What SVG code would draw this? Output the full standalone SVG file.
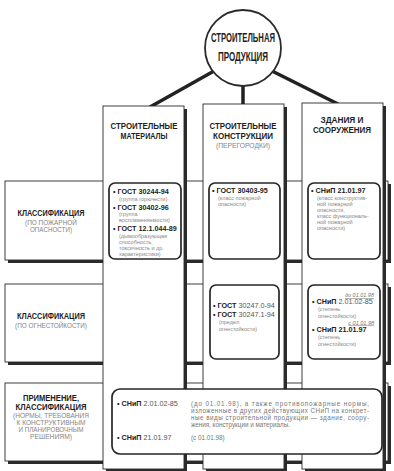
<svg xmlns="http://www.w3.org/2000/svg" width="394" height="471" viewBox="0 0 394 471">
<style>
.pn{fill:#fff;stroke:#2a2a2a;stroke-width:0.9}
.sh{fill:#2b2b2b}
.cn{stroke:#222;stroke-width:3.5;fill:none}
.rb{fill:#fff;stroke:#262626;stroke-width:1.7}
.h{font-family:'Liberation Sans',Arial,sans-serif;font-weight:bold;fill:#1e1e1e;text-anchor:middle;font-size:8.5px}
.g{font-family:'Liberation Sans',Arial,sans-serif;fill:#858585;text-anchor:middle;font-size:7px}
.b{font-family:'Liberation Sans',Arial,sans-serif;font-weight:bold;fill:#222;font-size:7.2px}
.n{font-weight:normal;fill:#555}
.t{font-family:'Liberation Sans',Arial,sans-serif;fill:#888;font-size:5.5px}
.d{font-family:'Liberation Sans',Arial,sans-serif;fill:#777;font-size:5.5px;font-style:italic;text-decoration:underline;text-anchor:end}
.p{font-family:'Liberation Sans',Arial,sans-serif;fill:#777;font-size:6.3px}
</style>
<rect width="394" height="471" fill="#fff"/>

<g id="row-fire">
<rect class="sh" x="8" y="184" width="383" height="79"/>
<rect class="pn" x="5" y="181" width="383" height="79"/>
<text class="h" x="51" y="216" textLength="67" lengthAdjust="spacingAndGlyphs">КЛАССИФИКАЦИЯ</text>
<text class="g" x="51" y="224.5" textLength="52" lengthAdjust="spacingAndGlyphs">(ПО ПОЖАРНОЙ</text>
<text class="g" x="51" y="232" textLength="42" lengthAdjust="spacingAndGlyphs">ОПАСНОСТИ)</text>
</g>
<g id="row-resist">
<rect class="sh" x="8" y="287" width="383" height="78"/>
<rect class="pn" x="5" y="284" width="383" height="78"/>
<text class="h" x="51" y="319" textLength="68" lengthAdjust="spacingAndGlyphs">КЛАССИФИКАЦИЯ</text>
<text class="g" x="51" y="327.5" textLength="72" lengthAdjust="spacingAndGlyphs">(ПО ОГНЕСТОЙКОСТИ)</text>
</g>
<g id="row-apply">
<rect class="sh" x="8" y="386" width="383" height="78"/>
<rect class="pn" x="5" y="383" width="383" height="78"/>
<text class="h" x="51" y="401" textLength="56" lengthAdjust="spacingAndGlyphs">ПРИМЕНЕНИЕ,</text>
<text class="h" x="51" y="410" textLength="71" lengthAdjust="spacingAndGlyphs">КЛАССИФИКАЦИЯ</text>
<text class="g" x="51" y="418" textLength="76" lengthAdjust="spacingAndGlyphs">(НОРМЫ, ТРЕБОВАНИЯ</text>
<text class="g" x="51" y="425" textLength="69" lengthAdjust="spacingAndGlyphs">К КОНСТРУКТИВНЫМ</text>
<text class="g" x="51" y="432" textLength="65" lengthAdjust="spacingAndGlyphs">И ПЛАНИРОВОЧНЫМ</text>
<text class="g" x="51" y="439" textLength="42" lengthAdjust="spacingAndGlyphs">РЕШЕНИЯМ)</text>
</g>

<g id="connectors">
<path class="cn" d="M214,71 L150,107"/>
<path class="cn" d="M243,85 L243,105"/>
<path class="cn" d="M272,71 L338,104"/>
</g>

<g id="col-materials">
<rect class="sh" x="106" y="109" width="81" height="362"/>
<rect class="pn" x="103" y="106" width="81" height="363"/>
<text class="h" x="144" y="129" textLength="67" lengthAdjust="spacingAndGlyphs">СТРОИТЕЛЬНЫЕ</text>
<text class="h" x="144" y="139" textLength="47" lengthAdjust="spacingAndGlyphs">МАТЕРИАЛЫ</text>
</g>
<g id="col-structures">
<rect class="sh" x="206" y="107" width="81" height="364"/>
<rect class="pn" x="203" y="104" width="81" height="365"/>
<text class="h" x="243" y="129" textLength="67" lengthAdjust="spacingAndGlyphs">СТРОИТЕЛЬНЫЕ</text>
<text class="h" x="243" y="139" textLength="60" lengthAdjust="spacingAndGlyphs">КОНСТРУКЦИИ</text>
<text class="g" x="243" y="148" textLength="54" lengthAdjust="spacingAndGlyphs">(ПЕРЕГОРОДКИ)</text>
</g>
<g id="col-buildings">
<rect class="sh" x="305" y="106" width="81" height="365"/>
<rect class="pn" x="302" y="103" width="81" height="366"/>
<text class="h" x="342" y="123" textLength="43" lengthAdjust="spacingAndGlyphs">ЗДАНИЯ И</text>
<text class="h" x="342" y="133" textLength="58" lengthAdjust="spacingAndGlyphs">СООРУЖЕНИЯ</text>
</g>

<g id="product">
<circle cx="243" cy="48" r="38" fill="#fff" stroke="#2a2a2a" stroke-width="1.8"/>
<text class="h" x="243" y="42" style="font-size:13.5px" textLength="64" lengthAdjust="spacingAndGlyphs">СТРОИТЕЛЬНАЯ</text>
<text class="h" x="243" y="61" style="font-size:13.5px" textLength="50" lengthAdjust="spacingAndGlyphs">ПРОДУКЦИЯ</text>
</g>

<g id="box-mat-fire">
<rect class="rb" x="109" y="183" width="72" height="76" rx="6"/>
<text class="b" x="113" y="194">• ГОСТ 30244-94</text>
<text class="t" x="119" y="200.5">(группа горючести)</text>
<text class="b" x="113" y="210">• ГОСТ 30402-96</text>
<text class="t" x="119" y="216">(группа</text>
<text class="t" x="119" y="222">воспламеняемости)</text>
<text class="b" x="113" y="231">• ГОСТ 12.1.044-89</text>
<text class="t" x="119" y="237.5">(дымообразующая</text>
<text class="t" x="119" y="243.5">способность,</text>
<text class="t" x="119" y="249.5">токсичность и др.</text>
<text class="t" x="119" y="255.5">характеристики)</text>
</g>
<g id="box-str-fire">
<rect class="rb" x="209" y="183" width="71" height="76" rx="6"/>
<text class="b" x="212" y="193">• ГОСТ 30403-95</text>
<text class="t" x="218" y="199.5">(класс пожарной</text>
<text class="t" x="218" y="205.5">опасности)</text>
</g>
<g id="box-bld-fire">
<rect class="rb" x="308" y="183" width="72" height="76" rx="6"/>
<text class="b" x="311" y="193">• СНиП 21.01.97</text>
<text class="t" x="317" y="199.5">(класс конструктив-</text>
<text class="t" x="317" y="205.5">ной пожарной</text>
<text class="t" x="317" y="211.5">опасности,</text>
<text class="t" x="317" y="217.5">класс функциональ-</text>
<text class="t" x="317" y="223.5">ной пожарной</text>
<text class="t" x="317" y="229.5">опасности)</text>
</g>
<g id="box-str-resist">
<rect class="rb" x="210" y="285" width="69" height="74" rx="6"/>
<text class="b" x="213" y="308">• ГОСТ <tspan class="n">30247.0-94</tspan></text>
<text class="b" x="213" y="317">• ГОСТ <tspan class="n">30247.1-94</tspan></text>
<text class="t" x="219" y="324">(предел</text>
<text class="t" x="219" y="330.5">огнестойкости)</text>
</g>
<g id="box-bld-resist">
<rect class="rb" x="308" y="285" width="72" height="74" rx="6"/>
<text class="d" x="374" y="297">до 01.01.98</text>
<text class="b" x="312" y="304">• СНиП <tspan class="n">2.01.02-85</tspan></text>
<text class="t" x="318" y="311">(степень</text>
<text class="t" x="318" y="317.5">огнестойкости)</text>
<text class="d" x="374" y="324.5">с 01.01.98</text>
<text class="b" x="312" y="332">• СНиП 21.01.97</text>
<text class="t" x="318" y="339">(степень</text>
<text class="t" x="318" y="345.5">огнестойкости)</text>
</g>
<g id="box-apply">
<rect class="rb" x="112" y="389" width="270" height="65" rx="8"/>
<text class="b" x="117" y="406">• СНиП <tspan class="n">2.01.02-85</tspan></text>
<text class="p" x="191" y="406" textLength="178" lengthAdjust="spacing">(до 01.01.98), а также противопожарные нормы,</text>
<text class="p" x="191" y="413" textLength="178" lengthAdjust="spacing">изложенные в других действующих СНиП на конкрет-</text>
<text class="p" x="191" y="420" textLength="178" lengthAdjust="spacing">ные виды строительной продукции — здание, соору-</text>
<text class="p" x="191" y="427">жения, конструкции и материалы.</text>
<text class="b" x="117" y="440">• СНиП <tspan class="n">21.01.97</tspan></text>
<text class="p" x="191" y="440">(с 01.01.98)</text>
</g>
</svg>
